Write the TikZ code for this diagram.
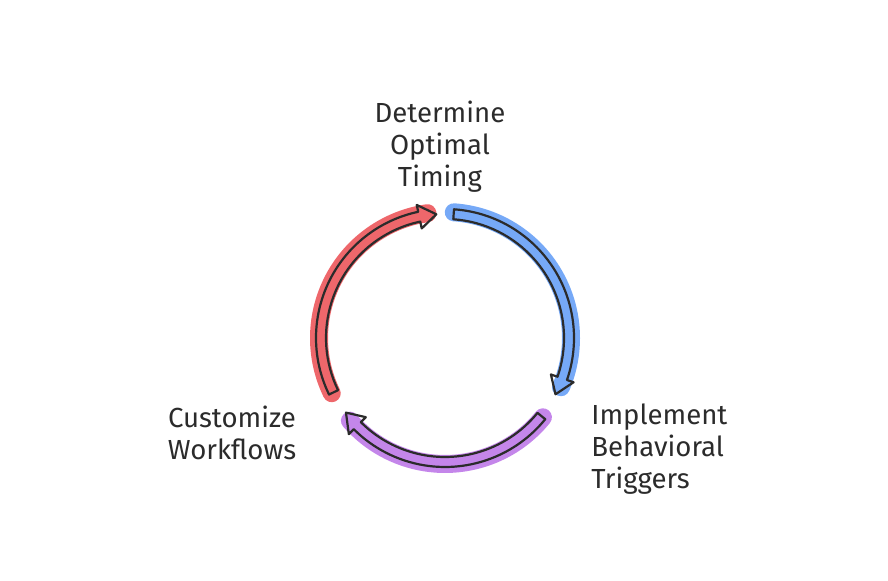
\documentclass[tikz,border=0pt]{standalone}
\usepackage{fontspec}
\setmainfont{Fira Sans}
\usetikzlibrary{calc}
\definecolor{redband}{HTML}{EE676B}
\definecolor{blueband}{HTML}{76A9F7}
\definecolor{purpleband}{HTML}{C486EA}
\definecolor{inkgray}{HTML}{2B2B2B}
\begin{document}
\begin{tikzpicture}[
    x=0.5pt, y=0.5pt,
    steplabel/.style={text=inkgray, font=\fontsize{13.8}{16}\selectfont, inner sep=0pt},
    band/.style={line width=9pt, line cap=round},
    outline/.style={draw=inkgray, line width=1.1pt, line join=round}
    ]
    \useasboundingbox (0,0) rectangle (888,581);
    \coordinate (hub) at (445,243);
    % the three arrows of the cycle, drawn clockwise
    \begin{scope}[shift={(hub)}]
    \foreach \from/\to/\col in {86/-27/blueband, -39/-143/purpleband, 206/94/redband}{
        \pgfmathsetmacro{\back}{\to+8}
        \draw[band, \col] (\from:126) arc[start angle=\from, end angle=\to+4, radius=126];
        \draw[outline] (\from:129) arc[start angle=\from, end angle=\back, radius=129]
            -- (\back:136) -- (\to:124) -- (\back:112) -- (\back:119)
            arc[start angle=\back, end angle=\from, radius=119] -- cycle;
    }
    \end{scope}
    \node[steplabel, align=center] (timing) at (440,434) {Determine\\Optimal\\Timing};
    \node[steplabel, align=left, anchor=west] (triggers) at (591,132) {Implement\\Behavioral\\Triggers};
    \node[steplabel, align=center] (workflows) at (232,148) {Customize\\Workflows};
\end{tikzpicture}
\end{document}
